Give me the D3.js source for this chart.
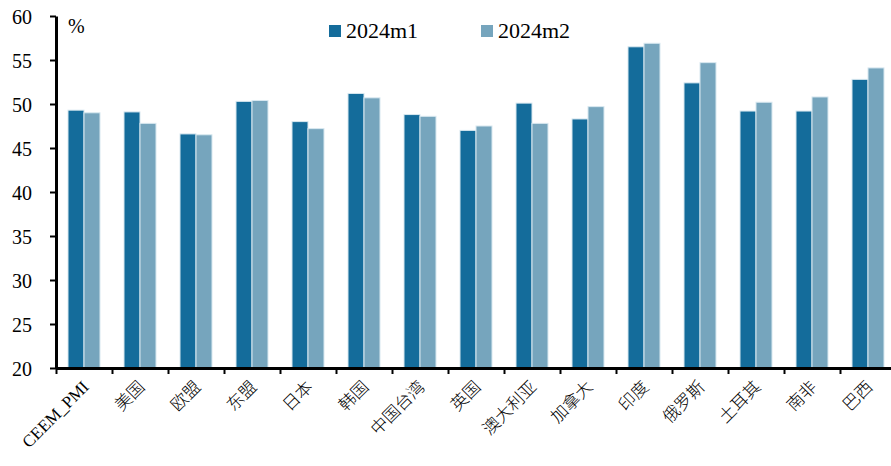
<!DOCTYPE html>
<html lang="en">
	<head>
		<meta charset="utf-8">
		<title>PMI</title>
		<style type="text/css">
		body {
			background-color: white;
			margin: 0px;
			padding: 0px;
		}
		#chart {
			position: relative;
			width: 891px;
			height: 466px;
			overflow: hidden;
		}
		svg {
			display: block;
		}
		.axis path, .axis line {
			stroke: black;
		}
		.axis text {
			fill: black;
			font-family: 'Liberation Serif', serif;
			font-size: 20px;
		}
		.xlabel {
			position: absolute;
			font-family: 'Liberation Serif', 'Noto Sans CJK SC', serif;
			font-size: 17px;
			font-weight: 300;
			line-height: 17px;
			white-space: nowrap;
			color: black;
			transform-origin: 100% 100%;
			transform: translate(-100%, -100%) rotate(-45deg);
		}
		.legend text {
			font-family: 'Liberation Serif', serif;
			font-size: 22px;
		}
		</style>
	</head>
	<body>
		<div id="chart"></div>
		<script src="https://d3js.org/d3.v7.min.js"></script>
		<script type="text/javascript">

			const categories = ["CEEM_PMI", "美国", "欧盟", "东盟", "日本", "韩国", "中国台湾", "英国", "澳大利亚", "加拿大", "印度", "俄罗斯", "土耳其", "南非", "巴西"];
			const seriesNames = ["2024m1", "2024m2"];
			const m1 = [49.3, 49.1, 46.6, 50.3, 48.0, 51.2, 48.8, 47.0, 50.1, 48.3, 56.5, 52.4, 49.2, 49.2, 52.8];
			const m2 = [49.0, 47.8, 46.5, 50.4, 47.2, 50.7, 48.6, 47.5, 47.8, 49.7, 56.9, 54.7, 50.2, 50.8, 54.1];
			const yTicks = [20, 25, 30, 35, 40, 45, 50, 55, 60];
			const colors = ["#146c9b", "#76a5bd"];

			const width = 891,
				height = 466,
				padding = [16, 0, 98, 56];

			const chart = d3.select("#chart");

			const svg = chart
				.append("svg")
				.attr("width", width)
				.attr("height", height);

			const xScale = d3.scaleBand()
				.domain(categories)
				.range([padding[3], padding[3] + 56 * categories.length])
				.padding(0);

			const xEdge = d3.scaleLinear()
				.domain([0, categories.length])
				.range(xScale.range());

			const xInner = d3.scaleBand()
				.domain(seriesNames)
				.range([12, 44])
				.padding(0);

			const yScale = d3.scaleLinear()
				.domain([20, 60])
				.range([height - padding[2], padding[0]]);

			const data = categories.map(function(c, i){
				return {cat: c, values: [{name: seriesNames[0], v: m1[i]}, {name: seriesNames[1], v: m2[i]}]};
			});

			// bars
			const groups = svg.selectAll(null)
				.data(data)
				.enter()
				.append("g")
				.attr("transform", function(d){
					return "translate(" + xScale(d.cat) + ",0)";
				});

			groups.selectAll(null)
				.data(function(d){ return d.values; })
				.enter()
				.append("rect")
				.attr("x", function(d){ return xInner(d.name); })
				.attr("width", xInner.bandwidth())
				.attr("y", function(d){ return yScale(d.v); })
				.attr("height", function(d){ return yScale(20) - yScale(d.v); })
				.style("fill", function(_, i){ return colors[i]; })
				.style("stroke", "#d8e8f0")
				.style("stroke-width", "1px");

			// axes
			const yAxis = d3.axisLeft(yScale)
				.tickValues(yTicks)
				.tickSizeInner(6)
				.tickSizeOuter(0)
				.tickPadding(18);

			const gY = svg.append("g")
				.attr("class", "axis")
				.attr("transform", "translate(" + padding[3] + ",0)")
				.call(yAxis);
			gY.select(".domain").style("stroke-width", "3px");
			gY.selectAll(".tick line").style("stroke-width", "2px");
			gY.selectAll(".tick text").attr("dy", "0.35em");

			const xAxis = d3.axisBottom(xEdge)
				.tickValues(d3.range(categories.length + 1))
				.tickFormat("")
				.tickSizeInner(6)
				.tickSizeOuter(0);

			const gX = svg.append("g")
				.attr("class", "axis")
				.attr("transform", "translate(0," + yScale(20) + ")")
				.call(xAxis);
			gX.select(".domain").style("stroke-width", "3px");
			gX.selectAll(".tick line").style("stroke-width", "2px");

			// rotated category labels as html, end of text at the anchor
			chart.selectAll(".xlabel")
				.data(categories)
				.enter()
				.append("div")
				.attr("class", "xlabel")
				.style("left", function(d){ return (xScale(d) + xScale.bandwidth() / 2 + 8) + "px"; })
				.style("top", (yScale(20) + 22) + "px")
				.text(function(d){ return d; });

			// unit
			svg.append("text")
				.attr("x", 68)
				.attr("y", 33)
				.style("font-family", "'Liberation Serif', serif")
				.style("font-size", "20px")
				.text("%");

			// legend
			const legendX = [329, 481];
			const legend = svg.selectAll(".legend")
				.data(seriesNames)
				.enter()
				.append("g")
				.attr("class", "legend")
				.attr("transform", function(_, i){
					return "translate(" + legendX[i] + ",25)";
				});

			legend.append("rect")
				.attr("width", 12)
				.attr("height", 12)
				.style("fill", function(_, i){ return colors[i]; });

			legend.append("text")
				.attr("x", 17)
				.attr("y", 13)
				.text(function(d){ return d; });

		</script>
	</body>
</html>
